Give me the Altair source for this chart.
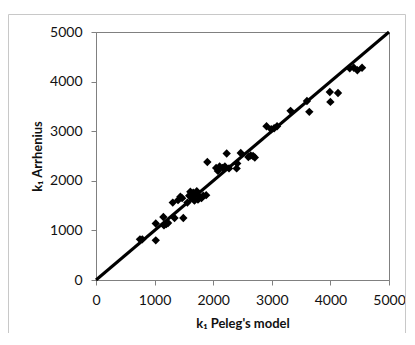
import altair as alt
import pandas as pd

# k1 from Peleg's model (x) vs k1 from Arrhenius (y)
peleg = [750, 790, 1020, 1020, 1150, 1160, 1200, 1230, 1310, 1340, 1400, 1440,
         1470, 1490, 1560, 1590, 1610, 1640, 1660, 1680, 1700, 1720, 1740, 1770,
         1800, 1830, 1880, 1900, 2050, 2080, 2110, 2160, 2200, 2230, 2270, 2400,
         2410, 2470, 2600, 2640, 2680, 2710, 2910, 2990, 3040, 3090, 3320, 3600,
         3640, 3990, 4000, 4130, 4330, 4400, 4460, 4540]
arrhenius = [820, 820, 800, 1140, 1270, 1100, 1130, 1150, 1560, 1250, 1610, 1680,
             1650, 1250, 1560, 1700, 1780, 1650, 1760, 1600, 1720, 1790, 1620, 1680,
             1650, 1700, 1710, 2380, 2260, 2200, 2290, 2260, 2290, 2550, 2250, 2250,
             2350, 2560, 2480, 2510, 2500, 2470, 3100, 3040, 3060, 3100, 3410, 3610,
             3390, 3790, 3590, 3770, 4270, 4280, 4230, 4280]

line_x = [0, 5000]
line_y = [0, 5000]
ticks = [0, 1000, 2000, 3000, 4000, 5000]

pts = pd.DataFrame({"peleg": peleg, "arr": arrhenius})
ln = pd.DataFrame({"peleg": line_x, "arr": line_y})

font = "Lato"
xs = alt.Scale(domain=[0, 5000], nice=False)
ys = alt.Scale(domain=[0, 5000], nice=False)

common = dict(values=ticks, format="d", grid=False, tickSize=5,
              domainColor="#808080", tickColor="#808080",
              labelFont=font, labelFontSize=14, labelColor="#111111",
              titleFont=font, titleFontSize=13, titleFontWeight="bold",
              titleColor="#111111", labelFlush=False)
x_axis = alt.Axis(title="k\u2081 Peleg's model", labelPadding=8, titlePadding=10, **common)
y_axis = alt.Axis(title="k\u2081 Arrhenius", labelPadding=9, titlePadding=5, **common)

border = alt.Chart(pd.DataFrame({"a": [0]})).mark_rect(
    fill=None, stroke="#c8c8c8", strokeWidth=1, clip=False
).encode(x=alt.value(-87.5), x2=alt.value(309.5), y=alt.value(-17.5), y2=alt.value(330))

line = alt.Chart(ln).mark_line(color="black", strokeWidth=3).encode(
    x=alt.X("peleg:Q", scale=xs, axis=x_axis),
    y=alt.Y("arr:Q", scale=ys, axis=y_axis),
)

points = alt.Chart(pts).mark_point(shape="diamond", filled=True, color="black",
                                   size=70, opacity=1).encode(
    x=alt.X("peleg:Q", scale=xs),
    y=alt.Y("arr:Q", scale=ys),
)

chart = alt.layer(border, line, points).properties(
    width=293, height=248,
    autosize=alt.AutoSizeParams(type="none"),
    padding={"left": 88, "top": 24, "right": 18, "bottom": 53},
    background="white",
).configure_view(stroke="#808080", strokeWidth=1)

chart.save("out.html", embed_options={"renderer": "svg", "actions": False})
